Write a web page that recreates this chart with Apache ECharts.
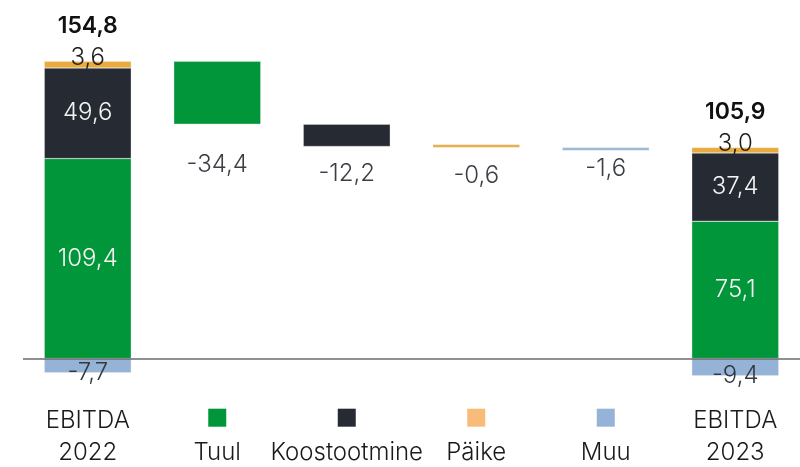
<!DOCTYPE html>
<html>
<head>
<meta charset="utf-8">
<script src="https://cdn.jsdelivr.net/npm/echarts@6/dist/echarts.min.js"></script>
<style>
  html, body { margin: 0; padding: 0; background: #ffffff; }
  #chart { width: 800px; height: 467px; }
</style>
</head>
<body>
<div id="chart"></div>
<script>
// EBITDA bridge 2022 -> 2023 by segment
const categories = ['EBITDA\n2022', 'Tuul', 'Koostootmine', 'Päike', 'Muu', 'EBITDA\n2023'];
const segments = ['Tuul', 'Koostootmine', 'Päike', 'Muu'];
const ebitda2022 = [109.4, 49.6, 3.6, -7.7];
const ebitda2023 = [75.1, 37.4, 3.0, -9.4];
const changes = [-34.4, -12.2, -0.6, -1.6];
const totals = [154.8, 105.9];

const barColors = ['#009639', '#262a33', '#e9ab3c', '#95b3d7'];
const legendColors = ['#009639', '#262a33', '#f9bb78', '#95b3d7'];
const FONT = 'Inter';
const fmt = v => v.toFixed(1).replace('.', ',');

// running level for the floating bars: starts at the top of the positive 2022 stack
let level = ebitda2022.filter(v => v > 0).reduce((a, b) => a + b, 0);
const baseData = ['-'];
changes.forEach(c => { level += c; baseData.push(+level.toFixed(2)); });
baseData.push('-');

// vertical gap between a floating bar's lower edge and its change label
const changeLabelGap = [41, 27.5, 28.5, 18];

function endLabel(k, value, total) {
  if (k === 0 || k === 1) {
    return { show: true, position: 'inside', color: '#f4f4f4', fontSize: 24,
      fontFamily: FONT, fontWeight: 300, formatter: fmt(value) };
  }
  if (k === 2) {
    return {
      show: true, position: ['50%', 0], align: 'center', verticalAlign: 'bottom',
      offset: [0, 12.5],
      formatter: '{t|' + fmt(total) + '}\n{v|' + fmt(value) + '}',
      rich: {
        t: { fontSize: 23, fontWeight: 600, color: '#111111', fontFamily: FONT, lineHeight: 32 },
        v: { fontSize: 24, fontWeight: 300, color: '#1e1e1e', fontFamily: FONT, lineHeight: 32 }
      }
    };
  }
  return { show: true, position: ['50%', '100%'], align: 'center', verticalAlign: 'middle',
    color: '#333740', fontSize: 24, fontFamily: FONT, fontWeight: 300, formatter: fmt(value) };
}

const series = [{
  name: 'base', type: 'bar', stack: 'w', barWidth: 87,
  itemStyle: { color: 'transparent' }, emphasis: { disabled: true },
  data: baseData, silent: true,
  // zero line across the plot
  markLine: {
    silent: true, symbol: 'none', label: { show: false },
    lineStyle: { color: '#6b6b6b', width: 1.5, type: 'solid' },
    data: [{ yAxis: 0 }]
  }
}];

segments.forEach((name, k) => {
  const data = categories.map(() => '-');
  data[0] = { value: ebitda2022[k], label: endLabel(k, ebitda2022[k], totals[0]) };
  data[5] = { value: ebitda2023[k], label: endLabel(k, ebitda2023[k], totals[1]) };
  data[k + 1] = {
    value: Math.abs(changes[k]),
    label: { show: true, position: ['50%', '100%'], align: 'center', verticalAlign: 'middle',
      offset: [0, changeLabelGap[k]], color: '#3b3e45', fontSize: 24,
      fontFamily: FONT, fontWeight: 300, formatter: fmt(changes[k]) }
  };
  series.push({
    name, type: 'bar', stack: 'w', barWidth: 87,
    barMinHeight: k === 2 ? 3 : 0,
    itemStyle: { color: barColors[k], borderColor: 'rgba(235,235,235,0.7)', borderWidth: 0.5 },
    data
  });
});

const textStyle = { fontSize: 24, fontFamily: FONT, fontWeight: 300, color: '#1a1a1a' };
const rich = {
  c: Object.assign({ lineHeight: 32 }, textStyle),
  n: Object.assign({ lineHeight: 44 }, textStyle)
};
legendColors.forEach((c, k) => {
  rich['sq' + (k + 1)] = { backgroundColor: c, width: 18, height: 18, lineHeight: 26 };
});

const option = {
  animation: false,
  backgroundColor: '#ffffff',
  grid: { left: 23, right: 0, top: 29.5, bottom: 67.3 },
  xAxis: {
    type: 'category', data: categories,
    axisLine: { show: false, onZero: false },
    axisTick: { show: false },
    axisLabel: {
      show: true, interval: 0, margin: 5, rich,
      formatter: (v, i) => {
        if (i === 0 || i === categories.length - 1) {
          return String(v).split('\n').map(s => '{c|' + s + '}').join('\n');
        }
        return '{sq' + i + '|}\n{n|' + v + '}';
      }
    }
  },
  yAxis: { type: 'value', show: false, min: -22.5, max: 180 },
  series
};

const chart = echarts.init(document.getElementById('chart'), null, { renderer: 'canvas' });
chart.setOption(option);
</script>
</body>
</html>
